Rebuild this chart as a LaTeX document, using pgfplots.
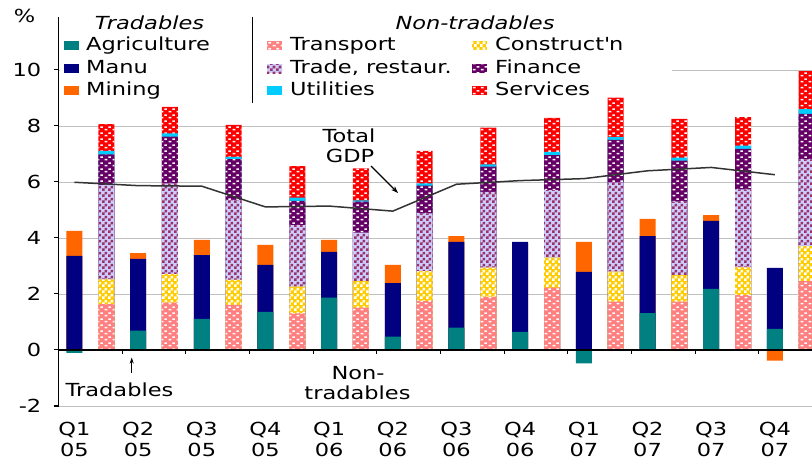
\documentclass[border=0pt]{standalone}
\usepackage{pgfplots}
\pgfplotsset{compat=1.18}
\usepackage{pgfplotstable}
\usepackage{fontspec}
\setmainfont{DejaVu Sans}[FakeStretch=1.25]
\usetikzlibrary{patterns,arrows.meta}

\definecolor{agri}{HTML}{008080}
\definecolor{manu}{HTML}{000080}
\definecolor{mining}{HTML}{FF6600}
\definecolor{transp}{HTML}{FF8080}
\definecolor{constr}{HTML}{FFCC00}
\definecolor{lav}{HTML}{CCCCFF}
\definecolor{mauve}{HTML}{993366}
\definecolor{finance}{HTML}{660066}
\definecolor{util}{HTML}{00CCFF}
\definecolor{serv}{HTML}{FF0000}
\definecolor{gridc}{HTML}{C0C0C0}
\definecolor{gdpc}{HTML}{333333}

\pgfdeclarepatternformonly{stagdots}{\pgfqpoint{0pt}{0pt}}{\pgfqpoint{8pt}{6pt}}{\pgfqpoint{8pt}{6pt}}{%
  \pgfpathrectangle{\pgfqpoint{0.8pt}{0.6pt}}{\pgfqpoint{3pt}{1.8pt}}%
  \pgfpathrectangle{\pgfqpoint{4.8pt}{3.6pt}}{\pgfqpoint{3pt}{1.8pt}}%
  \pgfusepath{fill}}
\pgfdeclarepatternformonly{checker}{\pgfqpoint{0pt}{0pt}}{\pgfqpoint{6pt}{6pt}}{\pgfqpoint{6pt}{6pt}}{%
  \pgfpathrectangle{\pgfqpoint{0pt}{0pt}}{\pgfqpoint{3pt}{3pt}}%
  \pgfpathrectangle{\pgfqpoint{3pt}{3pt}}{\pgfqpoint{3pt}{3pt}}%
  \pgfusepath{fill}}

\tikzset{
 sAgri/.style={fill=agri},
 sManu/.style={fill=manu},
 sMin/.style={fill=mining},
 sTrans/.style={fill=transp, postaction={pattern=stagdots, pattern color=white}},
 sCons/.style={fill=constr, postaction={pattern=checker, pattern color=white}},
 sTrade/.style={fill=lav, postaction={pattern=checker, pattern color=mauve}},
 sFin/.style={fill=finance, postaction={pattern=stagdots, pattern color=white}},
 sUtil/.style={fill=util},
 sServ/.style={fill=serv, postaction={pattern=stagdots, pattern color=white}},
}

\newcommand\lgf{\fontsize{18}{21}\selectfont}

% cumulative tops of each stacked segment (bars are overdrawn from the top segment down)
\pgfplotstableread{
x agri manu mining
0 -0.10 3.36 4.25
2 0.69 3.25 3.46
4 1.11 3.39 3.93
6 1.36 3.04 3.75
8 1.87 3.50 3.93
10 0.48 2.39 3.04
12 0.80 3.86 4.07
14 0.65 3.86 3.80
16 -0.48 2.79 3.86
18 1.32 4.07 4.68
20 2.18 4.61 4.82
22 0.75 2.93 -0.38
}\tradtab

\pgfplotstableread{
x trans cons trade fin util serv
1 1.64 2.52 5.89 6.99 7.11 8.07
3 1.69 2.71 5.95 7.62 7.74 8.68
5 1.61 2.50 5.36 6.82 6.90 8.04
7 1.31 2.26 4.46 5.33 5.44 6.57
9 1.51 2.46 4.19 5.30 5.34 6.49
11 1.75 2.82 4.88 5.87 5.95 7.11
13 1.90 2.94 5.65 6.55 6.63 7.94
15 2.23 3.30 5.71 6.96 7.08 8.29
17 1.73 2.80 5.99 7.50 7.60 9.01
19 1.73 2.67 5.30 6.76 6.87 8.25
21 1.96 2.95 5.74 7.18 7.30 8.32
23 2.46 3.71 6.81 8.43 8.60 9.96
}\nontab

\pgfplotstableread{
x gdp
0 5.99
2 5.87
4 5.85
6 5.11
8 5.14
10 4.96
12 5.92
14 6.05
16 6.12
18 6.40
20 6.52
22 6.26
}\gdptab

\begin{document}
\begin{tikzpicture}[font=\lgf]
\begin{axis}[
 at={(58.5pt,55pt)}, anchor=south west, scale only axis,
 width=753.5pt, height=389.2pt,
 xmin=-0.5, xmax=23.166, ymin=-2, ymax=11.9,
 axis x line*=bottom, axis y line*=left,
 x axis line style={draw=none},
 y axis line style={black, line width=1pt},
 xtick={0,2,...,22},
 xticklabels={{Q1\\05},{Q2\\05},{Q3\\05},{Q4\\05},{Q1\\06},{Q2\\06},{Q3\\06},{Q4\\06},{Q1\\07},{Q2\\07},{Q3\\07},{Q4\\07}},
 xtick style={draw=none},
 ytick={-2,0,2,4,6,8,10}, yticklabels={-2,0,2,4,6,8,10},
 ytick style={black, line width=1pt},
 tick align=outside, major tick length=5pt,
 ymajorgrids, grid style={draw=gridc, line width=0.8pt},
 tick label style={font=\lgf},
 xticklabel style={align=center, inner sep=0pt, yshift=-11pt},
 yticklabel style={inner sep=0pt, xshift=-12pt},
 bstyle/.style={ybar, bar width=16pt, bar shift=0pt, draw=none},
]
\addplot[bstyle, sMin] table[x=x,y=mining]{\tradtab};
\addplot[bstyle, sManu] table[x=x,y=manu]{\tradtab};
\addplot[bstyle, sAgri] table[x=x,y=agri]{\tradtab};
\addplot[bstyle, sServ] table[x=x,y=serv]{\nontab};
\addplot[bstyle, sUtil] table[x=x,y=util]{\nontab};
\addplot[bstyle, sFin] table[x=x,y=fin]{\nontab};
\addplot[bstyle, sTrade] table[x=x,y=trade]{\nontab};
\addplot[bstyle, sCons] table[x=x,y=cons]{\nontab};
\addplot[bstyle, sTrans] table[x=x,y=trans]{\nontab};
\draw[black, line width=1.4pt] (axis cs:-0.5,0) -- (axis cs:23.166,0);
\pgfplotsinvokeforeach{1.5,3.5,5.5,7.5,9.5,11.5,13.5,15.5,17.5,19.5,21.5}{
  \draw[black, line width=1pt] (axis cs:#1,0) -- ++(0pt,-4.5pt);
}
\addplot[color=gdpc, line width=1.5pt, mark=none] table[x=x,y=gdp]{\gdptab};
\end{axis}

% legend
\fill[white] (59.5pt,365pt) rectangle (672pt,447pt);
\node[anchor=base, inner sep=0pt, font=\lgf\itshape] at (149.5pt,431pt) {Tradables};
\node[anchor=base, inner sep=0pt, font=\lgf\itshape] at (475pt,431pt) {Non-tradables};
\draw[black, line width=1pt] (252pt,444pt) -- (252pt,358pt);

\path[sAgri] (64pt,410.5pt) rectangle ++(15pt,9pt);
\node[anchor=base west, inner sep=0pt] at (86pt,410pt) {Agriculture};
\path[sManu] (64pt,387.5pt) rectangle ++(15pt,9pt);
\node[anchor=base west, inner sep=0pt] at (86pt,387pt) {Manu};
\path[sMin] (64pt,365.5pt) rectangle ++(15pt,9pt);
\node[anchor=base west, inner sep=0pt] at (86pt,365pt) {Mining};

\path[sTrans] (267pt,410.5pt) rectangle ++(15pt,9pt);
\node[anchor=base west, inner sep=0pt] at (290pt,410pt) {Transport};
\path[sTrade] (267pt,387.5pt) rectangle ++(15pt,9pt);
\node[anchor=base west, inner sep=0pt] at (290pt,387pt) {Trade, restaur.};
\path[sUtil] (267pt,365.5pt) rectangle ++(15pt,9pt);
\node[anchor=base west, inner sep=0pt] at (290pt,365pt) {Utilities};

\path[sCons] (472pt,410.5pt) rectangle ++(15pt,9pt);
\node[anchor=base west, inner sep=0pt] at (495pt,410pt) {Construct\textquotesingle n};
\path[sFin] (472pt,387.5pt) rectangle ++(15pt,9pt);
\node[anchor=base west, inner sep=0pt] at (495pt,387pt) {Finance};
\path[sServ] (472pt,365.5pt) rectangle ++(15pt,9pt);
\node[anchor=base west, inner sep=0pt] at (495pt,365pt) {Services};

% labels and annotations
\node[anchor=base, inner sep=0pt] at (24.5pt,438pt) {\%};
\node[anchor=base, inner sep=0pt] at (349pt,318pt) {Total};
\node[anchor=base, inner sep=0pt] at (350pt,298pt) {GDP};
\draw[black, line width=1.2pt, -{Stealth[length=7pt,width=5pt]}] (371pt,295pt) -- (398pt,268pt);
\node[anchor=base, inner sep=0pt] at (119.5pt,64pt) {Tradables};
\draw[black, line width=1pt, -{Stealth[length=6pt,width=4pt]}] (131.7pt,88pt) -- (131.7pt,103.5pt);
\node[anchor=base, inner sep=0pt] at (358pt,81pt) {Non-};
\node[anchor=base, inner sep=0pt] at (357.5pt,61pt) {tradables};

\pgfresetboundingbox
\path (0pt,0pt) rectangle (812pt,461pt);
\end{tikzpicture}
\end{document}
